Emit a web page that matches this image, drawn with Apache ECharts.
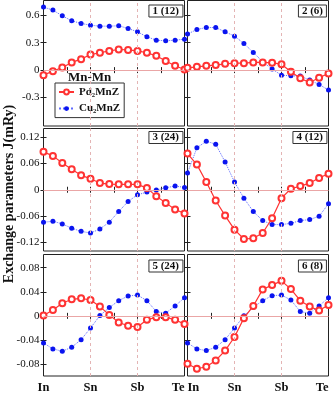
<!DOCTYPE html>
<html>
<head>
<meta charset="utf-8">
<script src="https://cdn.jsdelivr.net/npm/echarts@6/dist/echarts.min.js"></script>
<style>
  html, body { margin: 0; padding: 0; background: #fff; }
  #chart { width: 334px; height: 394px; }
</style>
</head>
<body>
<div id="chart"></div>
<script>
// x positions 0..15, sites at 0, 5, 10, 15
const sites = ['In', 'Sn', 'Sb', 'Te'];
const panelNames = ['1 (12)', '2 (6)', '3 (24)', '4 (12)', '5 (24)', '6 (8)'];

const xTicks = [0, 2.5, 5, 7.5, 10, 12.5, 15];
const yTicksTop = [-0.3, 0, 0.3, 0.6];
const yTicksMid = [-0.12, -0.06, 0, 0.06, 0.12];
const yTicksBot = [-0.08, -0.04, 0, 0.04, 0.08];

// Pd2MnZ (red, open circles) and Cu2MnZ (blue, filled dots)
const pd1 = [-0.055, -0.011, 0.029, 0.084, 0.12, 0.17, 0.19, 0.21, 0.225, 0.22, 0.21, 0.19, 0.156, 0.10, 0.047, 0.007];
const cu1 = [0.688, 0.655, 0.593, 0.538, 0.51, 0.49, 0.48, 0.48, 0.484, 0.455, 0.418, 0.364, 0.327, 0.32, 0.327, 0.338];
const pd2 = [0.025, 0.036, 0.047, 0.055, 0.069, 0.076, 0.076, 0.084, 0.084, 0.08, 0.065, -0.018, -0.09, -0.135, -0.084, -0.036];
const cu2 = [0.393, 0.444, 0.465, 0.465, 0.418, 0.371, 0.291, 0.193, 0.091, 0.011, -0.055, -0.062, -0.065, -0.109, -0.156, -0.218];
const pd3 = [0.0866, 0.0774, 0.0613, 0.0467, 0.033, 0.0253, 0.0153, 0.013, 0.0123, 0.0123, 0.0123, 0.0038, -0.0146, -0.03, -0.045, -0.054];
const cu3 = [-0.0743, -0.072, -0.078, -0.088, -0.095, -0.099, -0.0897, -0.074, -0.0498, -0.0268, -0.0115, -0.0054, -0.0008, 0.0046, 0.0084, 0.0054];
const pd4 = [0.0828, 0.0575, 0.0176, -0.0245, -0.059, -0.0912, -0.1126, -0.111, -0.0989, -0.0651, -0.0192, 0.0023, 0.0084, 0.0153, 0.0268, 0.0368];
const cu4 = [0.0383, 0.0958, 0.111, 0.104, 0.0636, 0.0176, -0.0192, -0.0498, -0.0705, -0.0797, -0.0797, -0.0766, -0.0705, -0.0682, -0.0605, -0.0322];
const pd5 = [0.0005, 0.0099, 0.0209, 0.0275, 0.0291, 0.0264, 0.0154, 0.0016, -0.011, -0.0165, -0.0187, -0.0066, -0.0022, -0.0022, -0.0066, -0.0137];
const cu5 = [-0.045, -0.055, -0.0588, -0.0522, -0.0396, -0.0203, 0.0005, 0.0137, 0.0253, 0.033, 0.0346, 0.0253, 0.0071, 0.0044, 0.0165, 0.0302];
const pd6 = [-0.0797, -0.0879, -0.0846, -0.0742, -0.0577, -0.0352, -0.0038, 0.0165, 0.044, 0.0511, 0.0582, 0.0445, 0.0253, 0.0154, 0.0088, 0.0181];
const cu6 = [-0.045, -0.055, -0.0577, -0.0522, -0.0396, -0.0203, 0, 0.0143, 0.0253, 0.0335, 0.0346, 0.0264, 0.0071, 0.0044, 0.0165, 0.0302];

const pdAll = [pd1, pd2, pd3, pd4, pd5, pd6];
const cuAll = [cu1, cu2, cu3, cu4, cu5, cu6];

const serif = '"Liberation Serif", "Times New Roman", serif';
const red = '#ff3333';
const blue = '#0a14f0';

// panel layout (px)
const colX = [43.5, 187.5];
const rowY = [0.5, 128.5, 254.5];
const rowH = [125.5, 122.5, 122.5];
const panelW = 141;
const rowRange = [[-0.61, 0.76], [-0.14, 0.14], [-0.1, 0.102]];
const rowTicks = [yTicksTop, yTicksMid, yTicksBot];
const labelTop = [4.5, 131, 259.5];

const chart = echarts.init(document.getElementById('chart'));

const grid = [], xAxis = [], yAxis = [], series = [], title = [];

for (let p = 0; p < 6; p++) {
    const r = Math.floor(p / 2), c = p % 2;
    grid.push({
        left: colX[c], top: rowY[r], width: panelW, height: rowH[r],
        show: true, borderColor: '#222', borderWidth: 1
    });

    const tick = { inside: true, length: 3, customValues: xTicks, lineStyle: { color: '#222' } };
    ['bottom', 'top'].forEach(function(pos) {
        xAxis.push({
            type: 'value', gridIndex: p, min: 0, max: 15, position: pos,
            axisLine: { show: false }, splitLine: { show: false }, axisTick: tick,
            axisLabel: {
                show: pos === 'bottom' && r === 2,
                customValues: [0, 5, 10, 15],
                formatter: function(v) { return sites[Math.round(v / 5)]; },
                fontFamily: serif, fontWeight: 'bold', fontSize: 12.5, color: '#111', margin: 5,
                alignMinLabel: c === 0 ? 'center' : 'left', alignMaxLabel: 'right'
            }
        });
    });
    ['left', 'right'].forEach(function(pos) {
        yAxis.push({
            type: 'value', gridIndex: p, min: rowRange[r][0], max: rowRange[r][1], position: pos,
            axisLine: { show: false }, splitLine: { show: false },
            axisTick: { inside: true, length: 3, customValues: rowTicks[r], lineStyle: { color: '#222' } },
            axisLabel: {
                show: pos === 'left' && c === 0,
                customValues: rowTicks[r],
                fontFamily: serif, fontSize: 11, color: '#111', margin: 4
            }
        });
    });

    // zero line and the Sn / Sb guides
    series.push({
        type: 'line', xAxisIndex: 2 * p, yAxisIndex: 2 * p, data: [], silent: true, z: 1,
        markLine: {
            symbol: 'none', silent: true, label: { show: false }, animation: false,
            data: [
                { yAxis: 0, lineStyle: { color: '#eaa6a6', type: 'solid', width: 1 } },
                { xAxis: 5, lineStyle: { color: '#e4b4b4', type: [3, 3], width: 1 } },
                { xAxis: 10, lineStyle: { color: '#e4b4b4', type: [3, 3], width: 1 } }
            ]
        }
    });
    series.push({
        name: 'Cu₂MnZ', type: 'line', xAxisIndex: 2 * p, yAxisIndex: 2 * p, clip: false, z: 3,
        data: cuAll[p].map(function(v, i) { return [i, v]; }),
        symbol: 'circle', symbolSize: 5,
        itemStyle: { color: blue },
        lineStyle: { color: '#5f6cff', width: 1, type: 'dotted' }
    });
    series.push({
        name: 'Pd₂MnZ', type: 'line', xAxisIndex: 2 * p, yAxisIndex: 2 * p, clip: false, z: 4,
        data: pdAll[p].map(function(v, i) { return [i, v]; }),
        symbol: 'emptyCircle', symbolSize: 6,
        itemStyle: { color: red, borderWidth: 1 },
        lineStyle: { color: red, width: 1.2 }
    });

    title.push({
        text: panelNames[p],
        right: 334 - (colX[c] + panelW) + 1.5, top: labelTop[r],
        borderColor: '#333', borderWidth: 1, backgroundColor: '#fff', padding: [1, 4],
        textStyle: { fontFamily: serif, fontWeight: 'bold', fontSize: 11, color: '#111' }
    });
}

title.push({
    text: 'Mn-Mn', left: 68, top: 71, padding: 0,
    textStyle: { fontFamily: serif, fontWeight: 'bold', fontSize: 13, color: '#111' }
});

chart.setOption({
    animation: false,
    grid: grid,
    xAxis: xAxis,
    yAxis: yAxis,
    title: title,
    legend: {
        orient: 'vertical', left: 55, top: 83,
        data: ['Pd₂MnZ', 'Cu₂MnZ'],
        borderColor: '#333', borderWidth: 1, backgroundColor: '#fff', borderRadius: 0,
        padding: [2, 4, 2, 3], itemWidth: 15, itemHeight: 6, itemGap: 2.6,
        textStyle: { fontFamily: serif, fontWeight: 'bold', fontSize: 11, lineHeight: 14, color: '#111' }
    },
    graphic: [{
        type: 'text', x: 9, y: 194, rotation: Math.PI / 2,
        style: {
            text: 'Exchange parameters J(mRy)', fill: '#111',
            font: 'bold 14px "Liberation Serif", serif',
            align: 'center', verticalAlign: 'middle'
        }
    }],
    series: series
});
</script>
</body>
</html>
